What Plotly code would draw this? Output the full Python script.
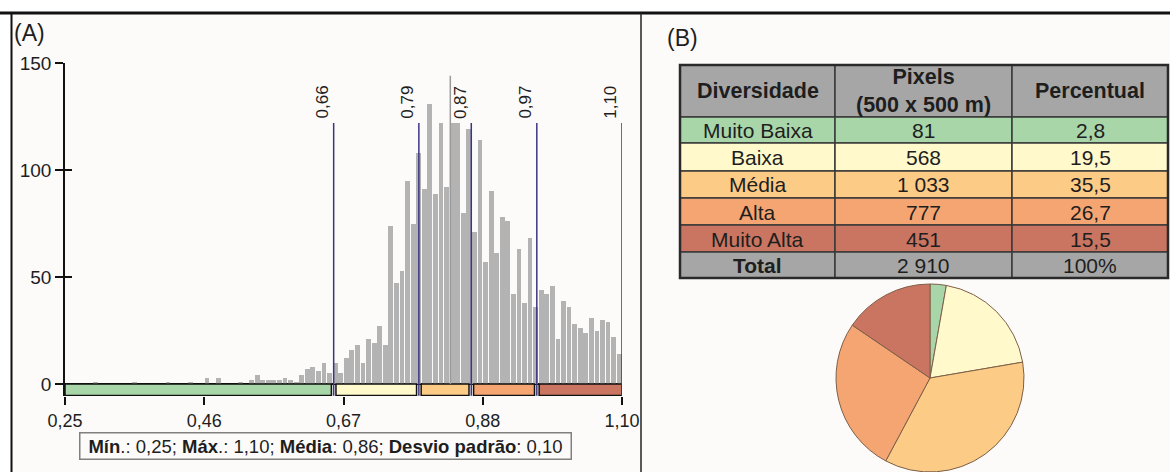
import numpy as np
import plotly.graph_objects as go

# ---------------- data ----------------
bin_start = 0.25
bin_width = 0.0085
counts = [0, 0, 0, 0, 0, 1, 0, 0, 0, 0, 0, 0, 1, 0, 0, 0, 0, 0, 1, 0, 0, 0, 1, 0, 0,
          3, 0, 3, 0, 0, 0, 1, 0, 2, 4, 2, 2, 2, 2, 3, 2, 1, 4, 7, 8, 6, 10, 5, 10,
          5, 12, 16, 18, 10, 21, 19, 27, 18, 74, 47, 53, 95, 75, 108,
          91, 131, 89, 122, 92, 122, 122, 80, 119,
          71, 114, 57, 90, 61, 78, 76, 42, 63, 38, 68, 36,
          44, 42, 46, 21, 39, 36, 28, 26, 24, 31, 25, 30, 29, 22, 14]

class_breaks = [0.25, 0.66, 0.79, 0.87, 0.97, 1.10]
break_labels = ["0,66", "0,79", "0,87", "0,97", "1,10"]
break_line_top = 122
mean_marker_x = 0.838
mean_marker_top = 144

x_tickvals = [0.25, 0.4625, 0.675, 0.8875, 1.10]
x_ticktext = ["0,25", "0,46", "0,67", "0,88", "1,10"]
y_tickvals = [0, 50, 100, 150]

classes = ["Muito Baixa", "Baixa", "Média", "Alta", "Muito Alta"]
class_colors = ["#a9d6a9", "#fff9cc", "#fccb86", "#f5a572", "#c97561"]
pixels = [81, 568, 1033, 777, 451]
percent = [2.8, 19.5, 35.5, 26.7, 15.5]
total_pixels = 2910
table_header = ["Diversidade", "Pixels<br>(500 x 500 m)", "Percentual"]

stats_names = ["Mín", "Máx", "Média", "Desvio padrão"]
stats_sep = [".:", ".:", ":", ":"]
stats_values = ["0,25", "1,10", "0,86", "0,10"]

# ---------------- figure ----------------
W, H = 1170, 472
FONT = "Liberation Sans, Arial, sans-serif"
TXT = "#1e1e1e"

def px_x(p):
    return p / W

def px_y(p):
    return 1 - p / H

centers = [bin_start + bin_width * (i + 0.5) for i in range(len(counts))]

fig = go.Figure()
fig.add_trace(go.Bar(x=centers, y=counts, width=bin_width * 0.86,
                     marker=dict(color="#b3b3b3", line=dict(width=0)),
                     hoverinfo="skip", showlegend=False))
# helper invisible trace so that the overlay axis (inside ticks) is drawn
fig.add_trace(go.Scatter(x=[0.3], y=[0], yaxis="y2", mode="markers",
                         marker=dict(opacity=0), showlegend=False, hoverinfo="skip"))

shapes = []
annotations = []
# background frame
shapes.append(dict(type="rect", xref="paper", yref="paper", x0=px_x(11), x1=1,
                   y0=0, y1=px_y(13), fillcolor="#fcfbf9", line=dict(width=0), layer="below"))
shapes.append(dict(type="line", xref="paper", yref="paper", x0=0, x1=1,
                   y0=px_y(13), y1=px_y(13), line=dict(color="#111", width=3)))
shapes.append(dict(type="line", xref="paper", yref="paper", x0=px_x(11.5), x1=px_x(11.5),
                   y0=0, y1=px_y(13), line=dict(color="#111", width=2)))
shapes.append(dict(type="line", xref="paper", yref="paper", x0=px_x(641), x1=px_x(641),
                   y0=0, y1=px_y(13), line=dict(color="#222", width=1.5)))

# colour bar under the histogram
gap = 0.0035
for i in range(len(classes)):
    a = class_breaks[i] + (gap if i > 0 else 0)
    b = class_breaks[i + 1] - (gap if i < len(classes) - 1 else 0)
    shapes.append(dict(type="rect", xref="x", yref="y", x0=a, x1=b, y0=-5.4, y1=0,
                       fillcolor=class_colors[i], line=dict(color="#111", width=1.5)))

# mean marker
shapes.append(dict(type="line", xref="x", yref="y", x0=mean_marker_x, x1=mean_marker_x,
                   y0=0, y1=mean_marker_top, line=dict(color="#9a9a9a", width=1.5)))

# class break lines
for b in class_breaks[1:]:
    shapes.append(dict(type="line", xref="x", yref="y", x0=b, x1=b, y0=-5.5,
                       y1=break_line_top, line=dict(color="#3b3682", width=1.5)))

for b, lab in zip(class_breaks[1:], break_labels):
    annotations.append(dict(x=b, y=break_line_top + 1, xref="x", yref="y", text=lab,
                            textangle=-90, showarrow=False, xanchor="right", yanchor="bottom",
                            font=dict(family=FONT, size=17, color=TXT)))

annotations.append(dict(x=px_x(12), y=px_y(18), xref="paper", yref="paper", text="(A)",
                        showarrow=False, xanchor="left", yanchor="top",
                        font=dict(family=FONT, size=23, color=TXT)))
annotations.append(dict(x=px_x(665), y=px_y(23), xref="paper", yref="paper", text="(B)",
                        showarrow=False, xanchor="left", yanchor="top",
                        font=dict(family=FONT, size=23, color=TXT)))

stats_text = "; ".join(f"<b>{n}</b>{s} {v}" for n, s, v in zip(stats_names, stats_sep, stats_values))
annotations.append(dict(x=px_x(325), y=px_y(445.5), xref="paper", yref="paper", text=stats_text,
                        showarrow=False, xanchor="center", yanchor="middle",
                        width=488, height=23, bgcolor="#fcfbf9",
                        bordercolor="#808080", borderwidth=1.5, borderpad=1,
                        font=dict(family=FONT, size=18.5, color=TXT)))

# ---------------- table (cells drawn as shapes + text) ----------------
col_edges = [680, 835, 1012, 1168]
row_edges = [65, 117, 143, 171, 198, 225, 252, 278]
fmt_pix = [f"{v:,}".replace(",", " ") for v in pixels] + [f"{total_pixels:,}".replace(",", " ")]
fmt_pct = [f"{v:.1f}".replace(".", ",") for v in percent] + ["100%"]
body_cols = [classes + ["<b>Total</b>"], fmt_pix, fmt_pct]
row_fill = ["#a6a6a6"] + class_colors + ["#a6a6a6"]

for r in range(len(row_edges) - 1):
    for c in range(len(col_edges) - 1):
        x0, x1 = col_edges[c], col_edges[c + 1]
        y0, y1 = row_edges[r], row_edges[r + 1]
        shapes.append(dict(type="rect", xref="paper", yref="paper",
                           x0=px_x(x0), x1=px_x(x1), y0=px_y(y1), y1=px_y(y0),
                           fillcolor=row_fill[r], line=dict(color="#3a3a3a", width=1.5)))
        if r == 0:
            txt = f"<b>{table_header[c]}</b>"
            size = 21.5
        else:
            txt = body_cols[c][r - 1]
            size = 21
        annotations.append(dict(x=px_x((x0 + x1) / 2), y=px_y((y0 + y1) / 2 + 0.5),
                                xref="paper", yref="paper", text=txt, showarrow=False,
                                xanchor="center", yanchor="middle",
                                font=dict(family=FONT, size=size, color=TXT)))
shapes.append(dict(type="rect", xref="paper", yref="paper",
                   x0=px_x(col_edges[0]), x1=px_x(col_edges[-1]),
                   y0=px_y(row_edges[-1]), y1=px_y(row_edges[0]),
                   line=dict(color="#2a2a2a", width=2.5)))

# pie
fig.add_trace(go.Pie(values=pixels, labels=classes, sort=False, direction="clockwise",
                     rotation=0, textinfo="none", hoverinfo="label+value",
                     marker=dict(colors=class_colors, line=dict(color="#7d5f48", width=1)),
                     domain=dict(x=[px_x(836), px_x(1024)], y=[0, px_y(284)]),
                     showlegend=False))

fig.update_layout(
    width=W, height=H, margin=dict(l=0, r=0, t=0, b=0, pad=0, autoexpand=False),
    paper_bgcolor="white", plot_bgcolor="rgba(0,0,0,0)",
    bargap=0, showlegend=False,
    font=dict(family=FONT, color=TXT),
    shapes=shapes, annotations=annotations,
    xaxis=dict(domain=[px_x(65), px_x(622)], range=[0.25, 1.10], tickvals=x_tickvals,
               ticktext=x_ticktext, ticks="outside", ticklen=8, tickwidth=1.5, tickcolor="#111",
               showline=False, showgrid=False, zeroline=False, automargin=False,
               tickfont=dict(family=FONT, size=18, color=TXT)),
    yaxis=dict(domain=[px_y(396), px_y(63)], range=[-5.6, 150], tickvals=y_tickvals,
               ticks="outside", ticklen=8, tickwidth=1.5, tickcolor="#111",
               showline=True, linecolor="#111", linewidth=1.5, automargin=False,
               showgrid=False, zeroline=True, zerolinecolor="#111", zerolinewidth=1.5,
               tickfont=dict(family=FONT, size=19, color=TXT)),
    yaxis2=dict(overlaying="y", anchor="x", range=[-5.6, 150], tickvals=y_tickvals,
                ticks="inside", ticklen=7, tickwidth=1.5, tickcolor="#111", automargin=False,
                showticklabels=False, showline=False, showgrid=False, zeroline=False),
)

fig.write_html("out.html")
